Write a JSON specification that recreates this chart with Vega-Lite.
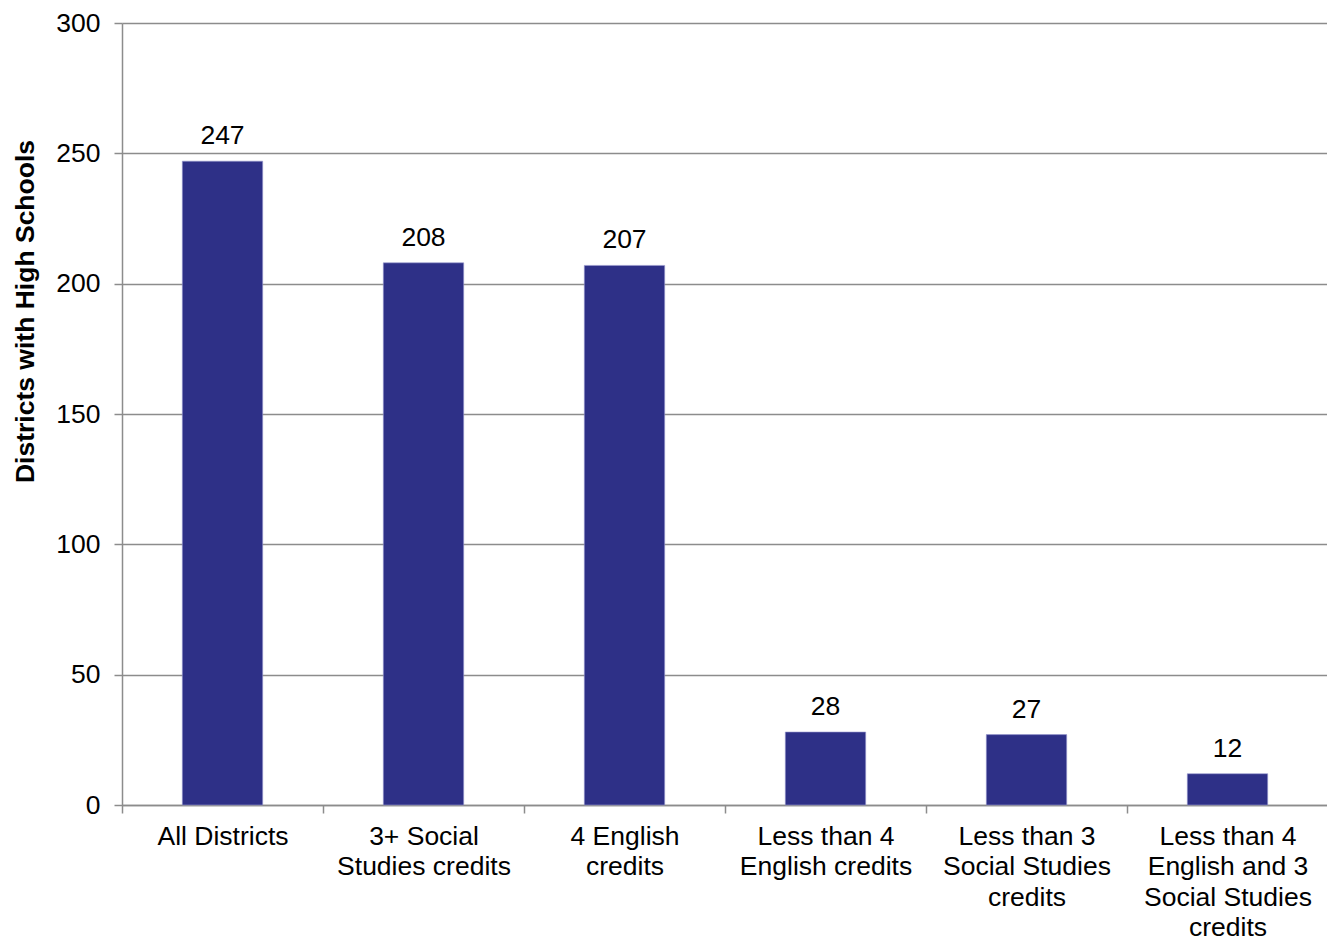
{
  "$schema": "https://vega.github.io/schema/vega-lite/v6.json",
  "width": 1206,
  "height": 782,
  "autosize": {"type": "none"},
  "padding": {"left": 122, "top": 23, "right": 0, "bottom": 137},
  "background": "white",
  "config": {
    "view": {"stroke": null},
    "font": "Liberation Sans",
    "axis": {"labelFont": "Liberation Sans", "titleFont": "Liberation Sans", "labelColor": "black", "titleColor": "black"}
  },
  "data": {
    "values": [
      {"category": "All Districts", "districts": 247},
      {"category": "3+ Social\nStudies credits", "districts": 208},
      {"category": "4 English\ncredits", "districts": 207},
      {"category": "Less than 4\nEnglish credits", "districts": 28},
      {"category": "Less than 3\nSocial Studies\ncredits", "districts": 27},
      {"category": "Less than 4\nEnglish and 3\nSocial Studies\ncredits", "districts": 12}
    ]
  },
  "encoding": {
    "x": {
      "field": "category",
      "type": "nominal",
      "sort": null,
      "scale": {"paddingInner": 0, "paddingOuter": 0},
      "axis": {
        "title": null,
        "labelAngle": 0,
        "labelLimit": 0,
        "labelExpr": "split(datum.label, '\\n')",
        "labelFontSize": 26.5,
        "labelLineHeight": 30.5,
        "labelPadding": 10,
        "labelBaseline": "top",
        "tickBand": "extent",
        "tickSize": 8,
        "tickColor": "#8c8c8c",
        "tickWidth": 1.5,
        "domainColor": "#8c8c8c",
        "domainWidth": 1.5,
        "grid": false
      }
    },
    "y": {
      "field": "districts",
      "type": "quantitative",
      "scale": {"domain": [0, 300], "nice": false},
      "axis": {
        "title": "Districts with High Schools",
        "titleFontSize": 26.5,
        "titleFontWeight": "bold",
        "titlePadding": 16,
        "titleY": 288,
        "values": [0, 50, 100, 150, 200, 250, 300],
        "labelFontSize": 26.5,
        "labelPadding": 14,
        "tickSize": 8,
        "tickColor": "#8c8c8c",
        "tickWidth": 1.5,
        "domainColor": "#8c8c8c",
        "domainWidth": 1.5,
        "grid": true,
        "gridColor": "#8c8c8c",
        "gridWidth": 1.5
      }
    }
  },
  "layer": [
    {"mark": {"type": "bar", "width": {"band": 0.4}, "color": "#2e3087", "stroke": "#9a9ad0", "strokeWidth": 0.6}},
    {
      "mark": {"type": "text", "baseline": "bottom", "dy": -11, "fontSize": 26.5, "color": "black"},
      "encoding": {"text": {"field": "districts", "type": "quantitative"}}
    }
  ]
}
